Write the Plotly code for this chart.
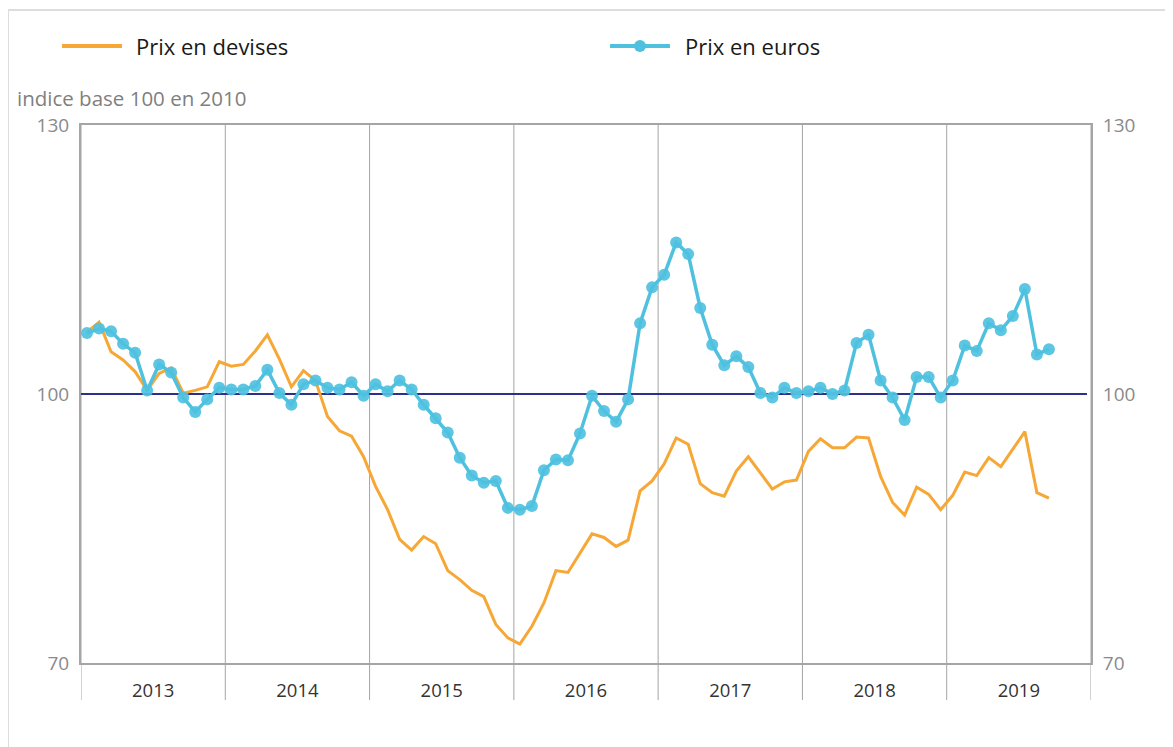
import plotly.graph_objects as go

years = [2013, 2014, 2015, 2016, 2017, 2018, 2019]
year_labels = ["2013", "2014", "2015", "2016", "2017", "2018", "2019"]

prix_devises = [
    106.9, 108.0, 104.7, 103.8, 102.5, 100.4, 102.3, 102.9, 100.1, 100.4, 100.8, 103.6,
    103.1, 103.3, 104.8, 106.6, 103.9, 100.8, 102.6, 101.5, 97.5, 95.9, 95.3, 93.0,
    89.7, 87.1, 83.8, 82.6, 84.1, 83.3, 80.3, 79.3, 78.1, 77.4, 74.3, 72.8,
    72.1, 74.1, 76.7, 80.3, 80.1, 82.3, 84.4, 84.0, 83.0, 83.7, 89.2, 90.3,
    92.2, 95.1, 94.4, 90.0, 89.0, 88.6, 91.4, 93.0, 91.2, 89.4, 90.2, 90.4,
    93.6, 95.0, 94.0, 94.0, 95.2, 95.1, 90.8, 87.9, 86.5, 89.6, 88.8, 87.1,
    88.7, 91.3, 90.9, 92.9, 91.9, 93.9, 95.8, 89.0, 88.4,
]

prix_euros = [
    106.8, 107.3, 107.0, 105.6, 104.6, 100.4, 103.3, 102.4, 99.6, 98.0, 99.4, 100.7,
    100.5, 100.5, 100.9, 102.7, 100.1, 98.8, 101.1, 101.5, 100.7, 100.5, 101.3, 99.8,
    101.1, 100.3, 101.5, 100.5, 98.8, 97.3, 95.7, 92.9, 90.9, 90.1, 90.3, 87.3,
    87.1, 87.5, 91.5, 92.7, 92.6, 95.6, 99.8, 98.1, 96.9, 99.4, 107.9, 111.9,
    113.3, 116.9, 115.6, 109.6, 105.5, 103.2, 104.2, 103.0, 100.1, 99.6, 100.7, 100.1,
    100.3, 100.7, 100.0, 100.4, 105.7, 106.6, 101.5, 99.6, 97.1, 101.9, 101.9, 99.6,
    101.5, 105.4, 104.8, 107.9, 107.1, 108.7, 111.7, 104.4, 105.0,
]

y_ticks = [70, 100, 130]
reference_level = 100

# monthly positions (middle of each month)
months = [years[0] + (i + 0.5) / 12 for i in range(len(prix_euros))]

ORANGE = "#F6A735"
BLUE = "#4FC1DF"
NAVY = "#2E2F8C"
GRID = "#A5A5A5"
FONT = "Open Sans"

# the page body has an 8px margin: work in page pixels, shift by OFF
OFF = 8
W, H = 1173 - OFF, 747 - OFF
PL, PR, PT, PB = 81, 1091, 125, 663          # plot area in page pixels
L, T = PL - OFF, PT - OFF
R, B = W - (PR - OFF), H - (PB - OFF)
PW, PH = PR - PL, PB - PT


def px_x(p):
    return (p - PL) / PW


def px_y(p):
    return (PB - p) / PH


fig = go.Figure()

fig.add_trace(go.Scatter(
    x=months, y=prix_devises, mode="lines", name="Prix en devises",
    line=dict(color=ORANGE, width=3), showlegend=False, yaxis="y",
))
fig.add_trace(go.Scatter(
    x=months, y=prix_euros, mode="lines+markers", name="Prix en euros",
    line=dict(color=BLUE, width=3.5),
    marker=dict(color=BLUE, size=12, opacity=0.92), showlegend=False, yaxis="y2",
))

shapes = []
# year separators (extend below the axis)
for yv in years + [years[-1] + 1]:
    shapes.append(dict(type="line", xref="x", yref="paper", x0=yv, x1=yv,
                       y0=px_y(700), y1=1, line=dict(color=GRID, width=1), layer="below"))
# reference line at 100
shapes.append(dict(type="line", xref="paper", yref="y", x0=0, x1=0.996,
                   y0=reference_level, y1=reference_level,
                   line=dict(color=NAVY, width=2), layer="below"))
# outer light frame
shapes.append(dict(type="line", xref="paper", yref="paper", x0=px_x(8), x1=px_x(1180),
                   y0=px_y(10), y1=px_y(10), line=dict(color="#DDDDDD", width=2)))
shapes.append(dict(type="line", xref="paper", yref="paper", x0=px_x(8), x1=px_x(8),
                   y0=px_y(10), y1=px_y(760), line=dict(color="#DDDDDD", width=2)))
# manual legend
ly = px_y(46)
shapes.append(dict(type="line", xref="paper", yref="paper", x0=px_x(62), x1=px_x(122),
                   y0=ly, y1=ly, line=dict(color=ORANGE, width=4)))
shapes.append(dict(type="line", xref="paper", yref="paper", x0=px_x(610), x1=px_x(670),
                   y0=ly, y1=ly, line=dict(color=BLUE, width=4)))
r = 6
shapes.append(dict(type="circle", xref="paper", yref="paper",
                   x0=px_x(640 - r), x1=px_x(640 + r), y0=px_y(46 + r), y1=px_y(46 - r),
                   fillcolor=BLUE, line=dict(color=BLUE, width=0)))

annotations = [
    dict(text="Prix en devises", xref="paper", yref="paper", x=px_x(134), y=ly,
         xanchor="left", yanchor="middle", showarrow=False,
         font=dict(family=FONT, size=22, color="#1a1a1a")),
    dict(text="Prix en euros", xref="paper", yref="paper", x=px_x(683), y=ly,
         xanchor="left", yanchor="middle", showarrow=False,
         font=dict(family=FONT, size=22, color="#1a1a1a")),
    dict(text="indice base 100 en 2010", xref="paper", yref="paper", x=px_x(15), y=px_y(98),
         xanchor="left", yanchor="middle", showarrow=False,
         font=dict(family=FONT, size=20.5, color="#7f7f7f")),
]

fig.update_layout(
    width=W, height=H,
    margin=dict(l=L, r=R, t=T, b=B, pad=0),
    paper_bgcolor="white", plot_bgcolor="white",
    showlegend=False,
    shapes=shapes, annotations=annotations,
    xaxis=dict(
        range=[years[0], years[-1] + 1],
        tickvals=[y + 0.5 for y in years], ticktext=year_labels,
        ticks="", showgrid=False, zeroline=False,
        showline=True, linecolor=GRID, linewidth=2, mirror=True,
        tickfont=dict(family=FONT, size=18.5, color="#333333"),
        ticklabelstandoff=10,
    ),
    yaxis=dict(
        range=[70, 130], tickvals=y_ticks, ticks="", showgrid=False, zeroline=False,
        showline=True, linecolor=GRID, linewidth=2,
        tickfont=dict(family=FONT, size=19, color="#8a8a8a"),
        ticklabelstandoff=6,
    ),
    yaxis2=dict(
        range=[70, 130], tickvals=y_ticks, ticks="", showgrid=False, zeroline=False,
        overlaying="y", side="right", showline=True, linecolor=GRID, linewidth=2,
        tickfont=dict(family=FONT, size=19, color="#8a8a8a"),
        ticklabelstandoff=6,
    ),
)

fig.write_html("out.html")
